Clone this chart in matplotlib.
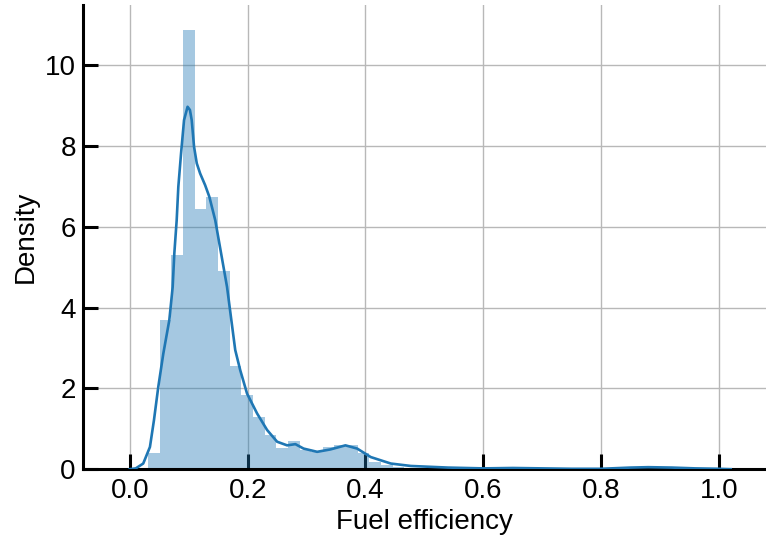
import numpy as np
import matplotlib
matplotlib.use("Agg")
import matplotlib.pyplot as plt

# Histogram (density), 49 bins from 0.031 to 1.0
bin_lo = 0.031
bin_hi = 1.0
hist_density = [0.39, 3.70, 5.30, 10.88, 6.45, 6.73, 4.91, 2.56, 1.83, 1.30,
                0.84, 0.53, 0.70, 0.47, 0.43, 0.55, 0.60, 0.60, 0.39, 0.18,
                0.10, 0.06, 0.04, 0.03, 0.02, 0.02, 0.01, 0.02, 0.00, 0.01,
                0.01, 0.00, 0.00, 0.00, 0.00, 0.01, 0.00, 0.00, 0.00, 0.00,
                0.00, 0.00, 0.00, 0.03, 0.04, 0.02, 0.00, 0.00, 0.02]

# KDE curve
kde_x = [0.000, 0.010, 0.0227, 0.0341, 0.0409, 0.0483, 0.0568, 0.0670, 0.0727, 0.0755,
         0.0795, 0.0823, 0.0869, 0.092, 0.098, 0.102, 0.105, 0.109, 0.1136, 0.1193,
         0.1278, 0.135, 0.145, 0.153, 0.165, 0.1789, 0.1874, 0.199, 0.216, 0.233,
         0.250, 0.267, 0.281, 0.295, 0.318, 0.3407, 0.366, 0.386, 0.409, 0.443,
         0.477, 0.54, 0.60, 0.65, 0.70, 0.75, 0.80, 0.85, 0.88,
         0.92, 0.96, 1.00, 1.02]
kde_y = [0.00, 0.02, 0.14, 0.55, 1.21, 2.04, 2.86, 3.69, 4.51, 5.34,
         6.16, 6.99, 7.81, 8.64, 8.97, 8.89, 8.64, 7.98, 7.57, 7.32,
         7.03, 6.74, 6.16, 5.50, 4.51, 2.95, 2.45, 1.87, 1.38, 0.97,
         0.68, 0.59, 0.62, 0.51, 0.43, 0.49, 0.59, 0.51, 0.30, 0.14,
         0.08, 0.04, 0.02, 0.03, 0.02, 0.01, 0.01, 0.04, 0.05,
         0.04, 0.02, 0.01, 0.00]

plt.rcParams["font.family"] = ["Liberation Sans", "DejaVu Sans"]

fig = plt.figure(figsize=(7.66, 5.35), dpi=100)
ax = fig.add_axes([0.108, 0.123, 0.892, 0.867])

edges = np.linspace(bin_lo, bin_hi, len(hist_density) + 1)
ax.bar(edges[:-1], hist_density, width=np.diff(edges), align="edge",
       color="#1f77b4", alpha=0.4, linewidth=0, zorder=2)
ax.plot(kde_x, kde_y, color="#1f77b4", linewidth=1.9, zorder=3,
        solid_joinstyle="round")

ax.set_xlim(-0.08, 1.08)
ax.set_ylim(0, 11.48)
ax.set_xticks([0.0, 0.2, 0.4, 0.6, 0.8, 1.0])
ax.set_yticks([0, 2, 4, 6, 8, 10])

ax.grid(True, color="#b8b8b8", linewidth=1.0, zorder=0)
ax.set_axisbelow(True)
for side in ["top", "right"]:
    ax.spines[side].set_visible(False)
for side in ["left", "bottom"]:
    ax.spines[side].set_linewidth(2.2)
ax.tick_params(direction="in", length=11, width=2.2, labelsize=20)
ax.tick_params(axis="y", pad=5)
ax.tick_params(axis="x", pad=6)

ax.set_xlabel("Fuel efficiency", fontsize=20)
ax.set_ylabel("Density", fontsize=20)

fig.savefig("out.png", dpi=100)
